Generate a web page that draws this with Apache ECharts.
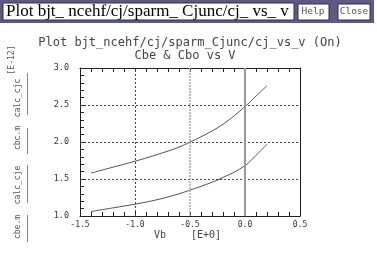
<!DOCTYPE html>
<html>
<head>
<meta charset="utf-8">
<script src="https://cdn.jsdelivr.net/npm/echarts@6/dist/echarts.min.js"></script>
<style>html,body{margin:0;padding:0;background:#fff}#c{width:377px;height:256px}</style>
</head>
<body>
<div id="c"></div>
<script>
// ---- data ----
const vb = [-1.4, -1.2, -1.0, -0.8, -0.6, -0.5, -0.4, -0.2, 0.0, 0.1, 0.2];
const cbcM = [1.58, 1.66, 1.74, 1.83, 1.93, 2.00, 2.07, 2.24, 2.48, 2.62, 2.76];
const cbeM = [1.06, 1.11, 1.16, 1.22, 1.30, 1.35, 1.40, 1.52, 1.68, 1.82, 1.97];
const xTicks = [-1.5, -1.0, -0.5, 0.0, 0.5];
const yTicks = [1.0, 1.5, 2.0, 2.5, 3.0];
const yGrid = [1.5, 2.0, 2.5];
const xGridDotted = [-1.0];
const xGridLight = [-0.5];
const xGridSolid = [0.0];
const titleText = 'Plot bjt_ncehf/cj/sparm_Cjunc/cj_vs_v (On)';
const subTitle = 'Cbe & Cbo vs V';
const headerTitle = 'Plot bjt_ ncehf/cj/sparm_ Cjunc/cj_ vs_ v';

const chart = echarts.init(document.getElementById('c'), null, {renderer: 'canvas'});
const mono = 'DejaVu Sans Mono';
const axisCol = '#222';
const lblStyle = {fontFamily: mono, fontSize: 8, color: '#333'};

const pairs = (xs, ys) => xs.map((x, i) => [x, ys[i]]);

const markData = [];
yGrid.forEach(v => markData.push({yAxis: v, lineStyle: {type: [2, 2], color: '#444', width: 1}}));
xGridDotted.forEach(v => markData.push({xAxis: v, lineStyle: {type: [2, 2], color: '#444', width: 1}}));
xGridLight.forEach(v => markData.push({xAxis: v, lineStyle: {type: [2, 1], color: '#aaa', width: 1.5}}));
xGridSolid.forEach(v => markData.push({xAxis: v, lineStyle: {type: 'solid', color: '#999', width: 2}}));

const legend = [
  {text: '[E-12]', x: 12, y: 60},
  {text: 'calc_cjc', x: 18, y: 98},
  {text: 'cbc.m', x: 18, y: 138},
  {text: 'calc_cje', x: 18, y: 185},
  {text: 'cbe.m', x: 18, y: 227}
];
const legLines = [[73, 115], [128, 154], [165, 203], [215, 242]];

const graphic = [
  {type: 'rect', shape: {x: 0, y: 0, width: 374, height: 23}, style: {fill: '#5d5a88'}, silent: true},
  {type: 'rect', shape: {x: 3, y: 3, width: 291, height: 17}, style: {fill: '#fff', stroke: '#333', lineWidth: 1}},
  {type: 'rect', shape: {x: 298, y: 4, width: 31, height: 16}, style: {fill: '#fff', stroke: '#333', lineWidth: 1}},
  {type: 'rect', shape: {x: 338, y: 4, width: 32, height: 16}, style: {fill: '#fff', stroke: '#333', lineWidth: 1}},
  {type: 'text', x: 6, y: 12, style: {text: headerTitle, font: '17px "Liberation Serif"', fill: '#000', verticalAlign: 'middle'}},
  {type: 'text', x: 313, y: 12, style: {text: 'Help', font: '9.5px "DejaVu Sans Mono"', fill: '#555', align: 'center', verticalAlign: 'middle'}},
  {type: 'text', x: 354, y: 12, style: {text: 'Close', font: '9.5px "DejaVu Sans Mono"', fill: '#555', align: 'center', verticalAlign: 'middle'}},
  {type: 'text', x: 190, y: 43, style: {text: titleText, font: '12px "DejaVu Sans Mono"', fill: '#444', align: 'center', verticalAlign: 'middle'}},
  {type: 'text', x: 185, y: 56, style: {text: subTitle, font: '12px "DejaVu Sans Mono"', fill: '#444', align: 'center', verticalAlign: 'middle'}},
  {type: 'text', x: 160, y: 235, style: {text: 'Vb', font: '10px "DejaVu Sans Mono"', fill: '#444', align: 'center', verticalAlign: 'middle'}},
  {type: 'text', x: 206, y: 235, style: {text: '[E+0]', font: '10px "DejaVu Sans Mono"', fill: '#444', align: 'center', verticalAlign: 'middle'}}
];
legend.forEach(l => graphic.push({type: 'text', x: l.x, y: l.y, rotation: Math.PI / 2,
  style: {text: l.text, font: '8px "DejaVu Sans Mono"', fill: '#555', align: 'center', verticalAlign: 'middle'}}));
legLines.forEach(p => graphic.push({type: 'line', shape: {x1: 27.5, y1: p[0], x2: 27.5, y2: p[1]}, style: {stroke: '#888', lineWidth: 1}}));

const tickIn = {show: true, inside: true, length: 4, lineStyle: {color: axisCol}};
const minorIn = {show: true, inside: true, splitNumber: 5, length: 4, lineStyle: {color: axisCol}};

const xCommon = {
  type: 'value', min: xTicks[0], max: xTicks[xTicks.length - 1], interval: 0.5,
  axisLine: {show: true, onZero: false, lineStyle: {color: axisCol, width: 1}},
  axisTick: tickIn,
  minorTick: minorIn,
  splitLine: {show: false}
};
const yCommon = {
  type: 'value', min: yTicks[0], max: yTicks[yTicks.length - 1], interval: 0.5,
  axisLine: {show: true, onZero: false, lineStyle: {color: axisCol, width: 1}},
  splitLine: {show: false}
};

chart.setOption({
  animation: false,
  backgroundColor: '#fff',
  graphic: graphic,
  grid: {left: 80, right: 77, top: 68, bottom: 40},
  xAxis: [
    Object.assign({}, xCommon, {position: 'bottom',
      axisLabel: Object.assign({}, lblStyle, {margin: 5, formatter: v => v.toFixed(1)})}),
    Object.assign({}, xCommon, {position: 'top', axisLabel: {show: false}})
  ],
  yAxis: [
    Object.assign({}, yCommon, {position: 'left',
      axisTick: tickIn,
      minorTick: minorIn,
      axisLabel: Object.assign({}, lblStyle, {fontSize: 8.5, margin: 11, formatter: v => v.toFixed(1)})}),
    Object.assign({}, yCommon, {position: 'right', axisTick: {show: false}, axisLabel: {show: false}})
  ],
  series: [
    {type: 'line', name: 'cbc.m', data: pairs(vb, cbcM), smooth: 0.4, symbol: 'none',
      lineStyle: {color: '#555', width: 1},
      markLine: {silent: true, symbol: 'none', label: {show: false}, data: markData}},
    {type: 'line', name: 'cbe.m', data: pairs(vb, cbeM), smooth: 0.4, symbol: 'none',
      lineStyle: {color: '#555', width: 1}}
  ]
});
</script>
</body>
</html>
